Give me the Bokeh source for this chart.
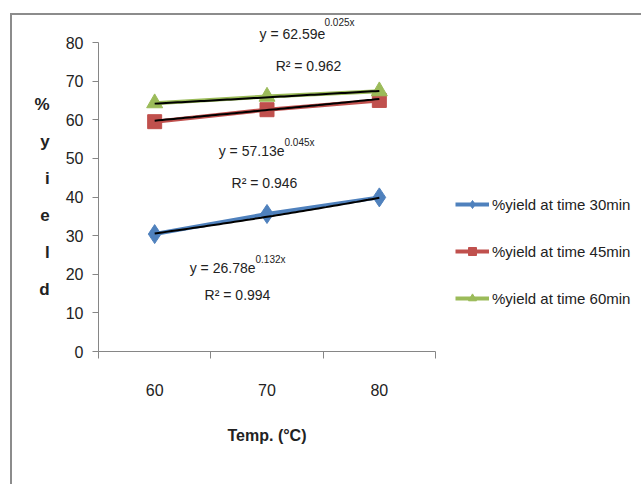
import numpy as np
from bokeh.plotting import figure
from bokeh.models import (Range1d, FixedTicker, Label, Legend, LegendItem, Title)
from bokeh.embed import file_html
from bokeh.resources import INLINE

# ---- data ----
temps = ["60", "70", "80"]
xpos = [1, 2, 3]
y30 = [30.4, 35.6, 39.9]
y45 = [59.5, 62.6, 65.0]
y60 = [64.3, 66.0, 67.4]
fit30 = (26.78, 0.132, 0.994)
fit45 = (57.13, 0.045, 0.946)
fit60 = (62.59, 0.025, 0.962)
names = ["%yield at time 30min", "%yield at time 45min", "%yield at time 60min"]
colors = ["#4F81BD", "#C0504D", "#9BBB59"]
yticks = [0, 10, 20, 30, 40, 50, 60, 70, 80]

FONT = "Liberation Sans"
GRAY = "#868686"
TXT = "#222222"

p = figure(frame_width=337, frame_height=309, output_backend="svg", toolbar_location=None,
           x_range=Range1d(0.5, 3.5), y_range=Range1d(0, 80),
           min_border_left=86, min_border_right=208, min_border_top=27,
           min_border_bottom=135, margin=(13, 0, 0, 10),
           styles={"border-top": "2px solid #8c8c8c", "border-left": "2px solid #8c8c8c"})
p.outline_line_color = None
p.grid.grid_line_color = None
p.background_fill_color = "white"
p.border_fill_color = "white"

# x axis
xa = p.xaxis[0]
xa.ticker = FixedTicker(ticks=xpos, minor_ticks=[0.5, 1.5, 2.5, 3.5])
xa.major_label_overrides = {x: t for x, t in zip(xpos, temps)}
xa.major_tick_line_color = None
xa.major_tick_out = 0
xa.major_tick_in = 0
xa.minor_tick_out = 7
xa.minor_tick_in = 0
xa.minor_tick_line_color = GRAY
xa.axis_line_color = GRAY
xa.major_label_standoff = 25
xa.major_label_text_font = FONT
xa.major_label_text_font_size = "16px"
xa.major_label_text_color = TXT
xa.axis_label = "Temp. (°C)"
xa.axis_label_text_font = FONT
xa.axis_label_text_font_size = "16px"
xa.axis_label_text_font_style = "bold"
xa.axis_label_text_color = TXT
xa.axis_label_standoff = 28

# y axis
ya = p.yaxis[0]
ya.ticker = FixedTicker(ticks=yticks, minor_ticks=[])
ya.major_tick_out = 6
ya.major_tick_in = 0
ya.major_tick_line_color = GRAY
ya.axis_line_color = GRAY
ya.major_label_standoff = 9
ya.major_label_text_font = FONT
ya.major_label_text_font_size = "16px"
ya.major_label_text_color = TXT
ya.axis_label = "%\ny\ni\ne\nl\nd"
ya.axis_label_orientation = "horizontal"
ya.axis_label_text_font = FONT
ya.axis_label_text_font_size = "17px"
ya.axis_label_text_font_style = "bold"
ya.axis_label_text_color = TXT
ya.axis_label_text_line_height = 1.95
ya.axis_label_text_align = "center"
ya.axis_label_standoff = 13


def px2x(px):
    return 0.5 + (px - 96) / 112.33


def py2y(py):
    return (349 - py) / 3.8625


xs = np.linspace(1, 3, 60)
items = []
for ys, fit, col, nm, mk, sz in zip([y30, y45, y60], [fit30, fit45, fit60], colors, names,
                                    ["diamond", "square", "triangle"], [19, 14, 16]):
    ln = p.line(xpos, ys, line_color=col, line_width=4)
    sc = p.scatter(xpos, ys, marker=mk, size=sz, fill_color=col, line_color=col)
    a, b, r2 = fit
    p.line(xs, a * np.exp(b * xs), line_color="black", line_width=2)
    items.append(LegendItem(label=nm, renderers=[ln, sc]))

legend = Legend(items=items, location=(20, 43), orientation="vertical",
                label_text_font=FONT, label_text_font_size="15px", label_text_color=TXT,
                glyph_width=34, glyph_height=20, label_height=20, spacing=27,
                label_standoff=3, padding=0, margin=0,
                border_line_color=None, background_fill_alpha=0)
p.add_layout(legend, "right")

# top equation (above the frame) as titles
t_main = Title(text="y = %.2fe" % fit60[0], align="left", offset=161, standoff=1,
               text_font=FONT, text_font_size="14px", text_font_style="normal",
               text_color=TXT)
t_sup = Title(text="%.3fx" % fit60[1], align="left", offset=226, standoff=-9,
              text_font=FONT, text_font_size="10px", text_font_style="normal",
              text_color=TXT)
p.add_layout(t_main, "above")
p.add_layout(t_sup, "above")

# equation labels inside the frame: (fit, junction px, main py, sup py)
eqs = [
    (fit45, 282, 148, 140),
    (fit30, 253, 265, 257),
]
for fit, jx, my, sy in eqs:
    a, b, r2 = fit
    p.add_layout(Label(x=px2x(jx), y=py2y(my), text=f"y = {a:.2f}e", text_align="right",
                       text_baseline="middle", text_font=FONT, text_font_size="14px",
                       text_color=TXT))
    p.add_layout(Label(x=px2x(jx), y=py2y(sy), text=f"{b:.3f}x", text_align="left",
                       text_baseline="middle", text_font=FONT, text_font_size="10px",
                       text_color=TXT))
for fit, rx, ry in [(fit60, 306, 63), (fit45, 262, 180), (fit30, 235, 292)]:
    p.add_layout(Label(x=px2x(rx), y=py2y(ry), text=f"R² = {fit[2]:.3f}", text_align="center",
                       text_baseline="middle", text_font=FONT, text_font_size="14px",
                       text_color=TXT))

open("out.html", "w").write(file_html(p, INLINE))
